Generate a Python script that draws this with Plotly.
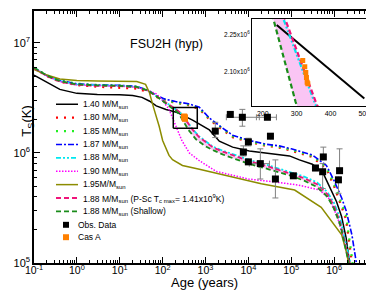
import plotly.graph_objects as go

# ---------------- data ----------------
t_140 = [0.1, 0.2, 0.4, 1, 3, 10, 20, 33, 50, 71, 120, 209, 241, 500, 1230, 2100, 4300, 10500, 26000, 91000, 155000, 310000, 540000, 780000, 1140000, 1490000, 1900000, 2300000]
T_140 = [5.1e6, 4.4e6, 3.78e6, 3.48e6, 3.4e6, 3.38e6, 3.33e6, 3.2e6, 2.95e6, 2.68e6, 2.48e6, 2.34e6, 2.29e6, 1.99e6, 1.62e6, 1.28e6, 1.13e6, 1.04e6, 1.0e6, 0.94e6, 0.865e6, 0.79e6, 0.67e6, 0.50e6, 0.36e6, 0.265e6, 0.17e6, 1.0e5]

t_180 = [0.1, 0.2, 0.4, 1, 3, 10, 25, 45, 70, 110, 200, 400, 720, 1230, 2100, 4300, 10500, 26000, 52000, 100000, 310000, 660000, 1000000, 1500000, 1900000, 2600000]
T_180 = [5.9e6, 5.0e6, 4.45e6, 4.15e6, 4.0e6, 3.93e6, 3.85e6, 3.6e6, 3.25e6, 3.0e6, 2.85e6, 2.72e6, 2.5e6, 2.02e6, 1.71e6, 1.39e6, 1.26e6, 1.16e6, 1.12e6, 1.05e6, 0.92e6, 0.72e6, 0.50e6, 0.33e6, 0.25e6, 1.0e5]

t_185 = [0.1, 0.2, 0.4, 1, 3, 10, 25, 45, 70, 110, 200, 400, 720, 1230, 2100, 4300, 10500, 26000, 52000, 100000, 310000, 660000, 1000000, 1500000, 1900000, 2700000]
T_185 = [5.95e6, 5.05e6, 4.55e6, 4.25e6, 4.15e6, 4.1e6, 4.0e6, 3.7e6, 3.3e6, 3.05e6, 2.88e6, 2.75e6, 2.54e6, 2.05e6, 1.74e6, 1.42e6, 1.28e6, 1.18e6, 1.14e6, 1.07e6, 0.94e6, 0.74e6, 0.52e6, 0.35e6, 0.27e6, 1.0e5]

t_187 = [0.1, 0.2, 0.4, 1, 3, 10, 25, 45, 70, 110, 200, 400, 720, 1230, 2100, 4300, 10500, 26000, 52000, 100000, 310000, 660000, 1000000, 1500000, 1900000, 2600000, 3300000]
T_187 = [5.95e6, 5.05e6, 4.55e6, 4.25e6, 4.15e6, 4.12e6, 4.02e6, 3.72e6, 3.35e6, 3.1e6, 2.93e6, 2.8e6, 2.6e6, 2.08e6, 1.77e6, 1.45e6, 1.3e6, 1.2e6, 1.16e6, 1.09e6, 0.96e6, 0.77e6, 0.56e6, 0.39e6, 0.30e6, 0.18e6, 1.0e5]

t_188 = [0.1, 0.2, 0.4, 1, 3, 10, 25, 45, 70, 110, 170, 265, 355, 500, 700, 1000, 1500, 2500, 5000, 10000, 30000, 100000, 200000, 400000, 700000, 1000000, 1400000, 1800000, 2400000]
T_188 = [5.95e6, 5.05e6, 4.5e6, 4.2e6, 4.12e6, 4.08e6, 3.98e6, 3.7e6, 3.3e6, 2.95e6, 2.62e6, 2.30e6, 1.966e6, 1.65e6, 1.42e6, 1.27e6, 1.14e6, 1.05e6, 0.95e6, 0.87e6, 0.77e6, 0.67e6, 0.61e6, 0.54e6, 0.44e6, 0.35e6, 0.25e6, 0.16e6, 1.0e5]

t_190 = [0.1, 0.2, 0.4, 1, 3, 10, 25, 45, 71, 100, 141, 200, 280, 420, 720, 1780, 10000, 50000, 150000, 460000, 780000, 1200000, 1700000, 2200000]
T_190 = [5.9e6, 5.0e6, 4.45e6, 4.15e6, 4.08e6, 4.05e6, 3.95e6, 3.7e6, 3.45e6, 3.0e6, 2.49e6, 1.8e6, 1.3e6, 1.0e6, 0.85e6, 0.68e6, 0.58e6, 0.54e6, 0.51e6, 0.46e6, 0.38e6, 0.26e6, 0.16e6, 1.0e5]

t_195 = [0.1, 0.2, 0.4, 1, 3, 10, 25, 40, 49, 63, 83, 100, 120, 141, 170, 290, 720, 3200, 20000, 120000, 500000, 1500000, 2000000, 2150000]
T_195 = [5.75e6, 5.1e6, 4.7e6, 4.55e6, 4.5e6, 4.47e6, 4.45e6, 4.2e6, 3.55e6, 2.5e6, 1.75e6, 1.3e6, 1.12e6, 0.95e6, 0.87e6, 0.77e6, 0.71e6, 0.62e6, 0.525e6, 0.46e6, 0.32e6, 0.18e6, 0.12e6, 1.0e5]

t_psc = [0.1, 0.2, 0.4, 1, 3, 10, 25, 45, 70, 110, 170, 270, 359, 500, 700, 1000, 1500, 2500, 5000, 10000, 30000, 100000, 200000, 400000, 700000, 1000000, 1400000, 1800000, 2300000]
T_psc = [5.9e6, 5.0e6, 4.45e6, 4.15e6, 4.08e6, 4.05e6, 3.95e6, 3.68e6, 3.3e6, 2.95e6, 2.62e6, 2.30e6, 1.966e6, 1.63e6, 1.40e6, 1.25e6, 1.12e6, 1.03e6, 0.93e6, 0.85e6, 0.75e6, 0.65e6, 0.59e6, 0.52e6, 0.42e6, 0.33e6, 0.23e6, 0.15e6, 1.0e5]

t_sh = [0.1, 0.2, 0.4, 1, 3, 10, 25, 45, 70, 110, 170, 232, 297, 400, 600, 1000, 1500, 2500, 5000, 10000, 30000, 100000, 200000, 400000, 700000, 1000000, 1400000, 1800000, 2200000]
T_sh = [5.95e6, 5.05e6, 4.5e6, 4.2e6, 4.12e6, 4.08e6, 3.98e6, 3.7e6, 3.3e6, 2.9e6, 2.55e6, 2.31e6, 1.975e6, 1.62e6, 1.33e6, 1.15e6, 1.06e6, 0.97e6, 0.88e6, 0.80e6, 0.71e6, 0.62e6, 0.56e6, 0.49e6, 0.40e6, 0.31e6, 0.22e6, 0.14e6, 1.0e5]

obs_t = [3790, 7240, 27800, 1690, 32700, 10000, 7640, 10000, 19000, 42700, 112000, 367000, 560000, 540000, 1340000, 1260000]
obs_T = [2.24e6, 2.11e6, 2.11e6, 1.58e6, 1.42e6, 1.26e6, 1.02e6, 0.83e6, 0.80e6, 0.58e6, 0.62e6, 0.73e6, 0.92e6, 0.675e6, 0.69e6, 0.57e6]
obs_T_hi = [2.35e6, 2.49e6, 2.11e6, 1.90e6, 1.42e6, 1.36e6, 1.16e6, 0.83e6, 1.09e6, 0.865e6, 0.62e6, 0.77e6, 1.13e6, 0.80e6, 1.09e6, 0.57e6]
obs_T_lo = [2.14e6, 1.75e6, 2.11e6, 1.38e6, 1.42e6, 1.16e6, 0.94e6, 0.83e6, 0.58e6, 0.39e6, 0.62e6, 0.69e6, 0.92e6, 0.475e6, 0.69e6, 0.43e6]
obs_t_lo = [3790, 3060, 15400, 1690, 32700, 10000, 7640, 10000, 10500, 42700, 112000, 367000, 560000, 540000, 1340000, 1260000]
obs_t_hi = [3790, 18000, 45100, 1690, 32700, 10000, 7640, 10000, 31000, 42700, 112000, 367000, 560000, 540000, 1340000, 1260000]

casa_t = [318, 324, 327, 329, 331, 333]
casa_T = [2.145e6, 2.12e6, 2.096e6, 2.076e6, 2.056e6, 2.05e6]

x_tick_vals = [1e-1, 1e0, 1e1, 1e2, 1e3, 1e4, 1e5, 1e6, 1e7]
x_tick_text = ["10<sup>-1</sup>", "10<sup>0</sup>", "10<sup>1</sup>", "10<sup>2</sup>", "10<sup>3</sup>",
               "10<sup>4</sup>", "10<sup>5</sup>", "10<sup>6</sup>", "10<sup>7</sup>"]
y_tick_vals = [1e5, 1e6, 1e7]
y_tick_text = ["10<sup>5</sup>", "10<sup>6</sup>", "10<sup>7</sup>"]
inset_x_ticks = [200, 300, 400, 500]
inset_y_ticks = [2.10e6, 2.25e6]
inset_y_text = ["2.10x10<sup>6</sup>", "2.25x10<sup>6</sup>"]

# zoom box (the region magnified in the inset)
box_t = (177, 643)
box_T = (1.68e6, 2.59e6)

# ---------------- layout geometry ----------------
W, H = 374, 294
ML, MR, MT, MB = 26, 5, 1, 39
PW, PH = W - ML - MR, H - MT - MB
FONT = "Liberation Sans, Arial, sans-serif"


def px2paper(x, y):
    return (x - ML) / PW, (H - MB - y) / PH


series = [
    ("1.40 M/M<sub>sun</sub>", t_140, T_140, "black", "solid", 1.5),
    ("1.80 M/M<sub>sun</sub>", t_180, T_180, "#ff0000", "2px,6px", 2.3),
    ("1.85 M/M<sub>sun</sub>", t_185, T_185, "#22ee22", "2px,6px", 2.3),
    ("1.87 M/M<sub>sun</sub>", t_187, T_187, "#0000ff", "6px,2px,2px,2px", 1.6),
    ("1.88 M/M<sub>sun</sub>", t_188, T_188, "#00e8f0", "5px,2px,2px,2px,2px,2px", 1.8),
    ("1.90 M/M<sub>sun</sub>", t_190, T_190, "#ff00ff", "1.5px,1.5px", 1.5),
    ("1.95M/M<sub>sun</sub>", t_195, T_195, "#8c8c00", "solid", 1.5),
    ("1.88 M/M<sub>sun</sub> (P-Sc T<sub>c max</sub>= 1.41x10<sup>9</sup>K)", t_psc, T_psc, "#f0147a", "5px,3px", 1.8),
    ("1.88 M/M<sub>sun</sub> (Shallow)", t_sh, T_sh, "#1a8c1a", "5px,3px", 1.8),
]

fig = go.Figure()

# pink band between shallow and P-Sc curves
band_x = [t for t in t_sh if t >= 110] + [t for t in t_psc if t >= 110][::-1]
band_y = [T for t, T in zip(t_sh, T_sh) if t >= 110] + [T for t, T in zip(t_psc, T_psc) if t >= 110][::-1]
BAND = "rgba(245,150,235,0.55)"
fig.add_trace(go.Scatter(x=band_x, y=band_y, fill="toself", fillcolor=BAND, line=dict(width=0),
                         mode="lines", showlegend=False, hoverinfo="skip"))

for name, tx, ty, col, dash, w in series:
    fig.add_trace(go.Scatter(x=tx, y=ty, mode="lines", name=name,
                             line=dict(color=col, dash=dash, width=w), showlegend=False))

# observations
fig.add_trace(go.Scatter(
    x=obs_t, y=obs_T, mode="markers", showlegend=False,
    marker=dict(symbol="square", size=7, color="black"),
    error_y=dict(type="data", symmetric=False,
                 array=[h - v for h, v in zip(obs_T_hi, obs_T)],
                 arrayminus=[v - l for l, v in zip(obs_T_lo, obs_T)],
                 color="#808080", thickness=1, width=3),
    error_x=dict(type="data", symmetric=False,
                 array=[h - v for h, v in zip(obs_t_hi, obs_t)],
                 arrayminus=[v - l for l, v in zip(obs_t_lo, obs_t)],
                 color="#808080", thickness=1, width=3)))

fig.add_trace(go.Scatter(x=casa_t, y=casa_T, mode="markers", showlegend=False,
                         marker=dict(symbol="square", size=6, color="#ff8000")))

# zoom box
fig.add_trace(go.Scatter(x=[box_t[0], box_t[1], box_t[1], box_t[0], box_t[0]],
                         y=[box_T[0], box_T[0], box_T[1], box_T[1], box_T[0]],
                         mode="lines", line=dict(color="black", width=1.5),
                         showlegend=False, hoverinfo="skip"))

# ---------------- inset ----------------
def window(tx, ty, lo, hi):
    pts = [(a, b) for a, b in zip(tx, ty) if lo <= a <= hi]
    return [p[0] for p in pts], [p[1] for p in pts]

fig.add_trace(go.Scatter(x=band_x, y=band_y, fill="toself", fillcolor=BAND, line=dict(width=0),
                         mode="lines", showlegend=False, xaxis="x2", yaxis="y2", hoverinfo="skip"))
for name, tx, ty, col, dash, w in series:
    if name.startswith("1.40"):
        ix, iy = window(tx, ty, 240, 520)
        lw = 2
    elif tx in (t_188, t_psc, t_sh):
        ix, iy = window(tx, ty, 100, 800)
        lw = 2.2
    else:
        continue
    fig.add_trace(go.Scatter(x=ix, y=iy, mode="lines", line=dict(color=col, dash=dash, width=lw),
                             showlegend=False, xaxis="x2", yaxis="y2"))
fig.add_trace(go.Scatter(x=casa_t, y=casa_T, mode="markers", showlegend=False,
                         marker=dict(symbol="square", size=5, color="#ff8000"),
                         xaxis="x2", yaxis="y2"))

# ---------------- manual legend ----------------
shapes = []
annos = []
row0, dy = 95, 13.5
for i, (name, tx, ty, col, dash, w) in enumerate(series):
    y = row0 + i * dy
    x0, yp = px2paper(48, y)
    x1, _ = px2paper(70, y)
    shapes.append(dict(type="line", xref="paper", yref="paper", x0=x0, x1=x1, y0=yp, y1=yp,
                       line=dict(color=col, dash=dash, width=w)))
    xt, _ = px2paper(73, y)
    annos.append(dict(text=name, xref="paper", yref="paper", x=xt, y=yp, xanchor="left",
                      yanchor="middle", showarrow=False, font=dict(size=8.5, family=FONT, color="black")))
for j, (name, col) in enumerate([("Obs. Data", "black"), ("Cas A", "#ff8000")]):
    y = row0 + (len(series) + j) * dy - (1 if j else 0)
    xa, ya = px2paper(55, y - 3)
    xb, yb = px2paper(61, y + 3)
    shapes.append(dict(type="rect", xref="paper", yref="paper", x0=xa, x1=xb, y0=yb, y1=ya,
                       fillcolor=col, line=dict(width=0)))
    xt, yp = px2paper(68, y)
    annos.append(dict(text=name, xref="paper", yref="paper", x=xt, y=yp, xanchor="left",
                      yanchor="middle", showarrow=False, font=dict(size=8.5, family=FONT, color="black")))

tx_, ty_ = px2paper(158, 25)
annos.append(dict(text="FSU2H (hyp)", xref="paper", yref="paper", x=tx_, y=ty_, showarrow=False,
                  font=dict(size=12.5, family=FONT, color="black")))
ax_, ay_ = px2paper(196, 284)
annos.append(dict(text="Age (years)", xref="paper", yref="paper", x=ax_, y=ay_, showarrow=False,
                  font=dict(size=13, family=FONT, color="black")))
yx_, yy_ = px2paper(9, 112)
annos.append(dict(text="T<sub>S</sub>(K)", xref="paper", yref="paper", x=yx_, y=yy_, showarrow=False,
                  textangle=-90, font=dict(size=13, family=FONT, color="black")))

minor_x = [m * 10.0 ** e for e in range(-1, 7) for m in range(2, 10)]
minor_y = [m * 10.0 ** e for e in range(5, 7) for m in range(2, 10)] + [2e7]

ix0, iy0 = px2paper(244, 97)
ix1, iy1 = px2paper(358, 9)

fig.update_layout(
    width=W, height=H, margin=dict(l=ML, r=MR, t=MT, b=MB),
    paper_bgcolor="white", plot_bgcolor="white", showlegend=False,
    font=dict(family=FONT, color="black"),
    shapes=shapes, annotations=annos,
    xaxis=dict(type="log", range=[-1, 7], tickmode="array", tickvals=x_tick_vals, ticktext=x_tick_text,
               ticks="inside", ticklen=6, tickwidth=1, tickcolor="black", showline=True, linecolor="black",
               linewidth=1.5, mirror="ticks", showgrid=False, zeroline=False, ticklabelstandoff=-3,
               tickfont=dict(size=10.5, family=FONT),
               minor=dict(tickmode="array", tickvals=minor_x, ticks="inside", ticklen=3, tickcolor="black",
                          showgrid=False)),
    yaxis=dict(type="log", range=[5, 7.29], tickmode="array", tickvals=y_tick_vals, ticktext=y_tick_text,
               ticks="inside", ticklen=6, tickwidth=1, tickcolor="black", showline=True, linecolor="black",
               linewidth=1.5, mirror="ticks", showgrid=False, zeroline=False,
               tickfont=dict(size=11, family=FONT),
               minor=dict(tickmode="array", tickvals=minor_y, ticks="inside", ticklen=3, tickcolor="black",
                          showgrid=False)),
    xaxis2=dict(domain=[ix0, ix1], anchor="y2", range=[168, 505], tickmode="array", tickvals=inset_x_ticks,
                ticks="", showline=True, linecolor="black", linewidth=1, mirror=True, showgrid=False,
                zeroline=False, tickfont=dict(size=7, family=FONT)),
    yaxis2=dict(domain=[iy0, iy1], anchor="x2", range=[1.958e6, 2.315e6], tickmode="array",
                tickvals=inset_y_ticks, ticktext=inset_y_text, ticks="", showline=True, linecolor="black",
                linewidth=1, mirror=True, showgrid=False, zeroline=False, tickfont=dict(size=6.5, family=FONT)),
)

fig.write_html("out.html")
